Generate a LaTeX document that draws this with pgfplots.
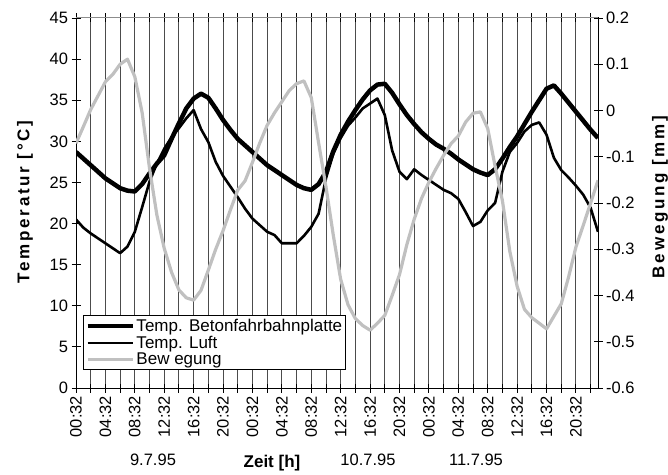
\documentclass[border=0pt]{standalone}
\usepackage{pgfplots}
\usepackage{pgfplotstable}
\pgfplotsset{compat=1.18}
\usepackage{fontspec}
\setmainfont{Liberation Sans}
\newfontfamily\axtitle[LetterSpace=16]{Liberation Sans}

% hourly readings, 00:32 on 9.7.95 = hour 0
\pgfplotstableread{
h beton luft bew
0 28.7 20.5 -0.071
1 27.9 19.5 -0.035
2 27.1 18.8 0.002
3 26.3 18.2 0.032
4 25.5 17.6 0.062
5 24.9 17.0 0.078
6 24.3 16.4 0.100
7 24.0 17.2 0.111
8 23.9 19.0 0.073
9 24.8 22.0 -0.005
10 26.1 25.1 -0.125
11 27.3 27.3 -0.226
12 28.3 29.1 -0.298
13 30.3 30.5 -0.350
14 32.2 31.6 -0.388
15 34.0 32.8 -0.405
16 35.2 33.8 -0.410
17 35.8 31.5 -0.389
18 35.3 29.9 -0.345
19 34.0 27.5 -0.300
20 32.6 25.8 -0.260
21 31.4 24.5 -0.215
22 30.3 23.2 -0.172
23 29.5 21.8 -0.152
24 28.7 20.6 -0.112
25 27.9 19.8 -0.070
26 27.1 19.0 -0.032
27 26.5 18.6 -0.005
28 25.9 17.6 0.019
29 25.3 17.6 0.043
30 24.7 17.6 0.058
31 24.3 18.5 0.064
32 24.1 19.6 0.028
33 24.8 21.2 -0.070
34 26.3 25.5 -0.165
35 28.8 28.5 -0.270
36 30.8 30.4 -0.365
37 32.4 31.9 -0.420
38 33.8 32.9 -0.450
39 35.1 34.0 -0.465
40 36.2 34.6 -0.475
41 36.9 35.2 -0.460
42 37.0 33.2 -0.443
43 35.9 28.9 -0.400
44 34.5 26.3 -0.355
45 33.2 25.4 -0.290
46 32.1 26.6 -0.235
47 31.1 25.9 -0.190
48 30.3 25.3 -0.155
49 29.6 24.7 -0.125
50 29.1 24.1 -0.097
51 28.5 23.7 -0.072
52 27.8 23.0 -0.055
53 27.2 21.4 -0.025
54 26.6 19.7 -0.006
55 26.2 20.2 -0.003
56 25.9 21.6 -0.039
57 26.6 22.5 -0.120
58 27.9 26.3 -0.195
59 29.3 28.7 -0.304
60 30.6 29.8 -0.380
61 32.1 31.2 -0.430
62 33.6 32.0 -0.448
63 35.0 32.3 -0.460
64 36.4 30.8 -0.472
65 36.8 28.0 -0.445
66 35.8 26.5 -0.418
67 34.7 25.6 -0.360
68 33.6 24.6 -0.295
69 32.5 23.5 -0.248
70 31.4 21.9 -0.200
71 30.4 19.0 -0.151
}\data

\begin{document}
\begin{tikzpicture}[font=\fontsize{16.5}{18}\selectfont]
\pgfplotsset{
  every axis/.append style={
    at={(0,0)}, anchor=south west,
    scale only axis, width=522pt, height=370pt,
    xmin=0, xmax=71,
    tick align=center, major tick length=9pt,
    tick style={black, line width=0.9pt},
    axis line style={black, line width=1pt},
    tick label style={font=\fontsize{16.5}{18}\selectfont},
    /pgf/number format/assume math mode=true,
  },
  beton/.style={black, line width=4.5pt, line join=round},
  luft/.style={black, line width=2.6pt, line join=round},
  beweg/.style={color={rgb,255:red,192;green,192;blue,192}, line width=3.2pt, line join=round},
}
\begin{axis}[
  name=main,
  ymin=0, ymax=45, ytick={0,5,...,45},
  ytick pos=left,
  xtick={0,2,...,70},
  xticklabels={00:32,,04:32,,08:32,,12:32,,16:32,,20:32,,00:32,,04:32,,08:32,,12:32,,16:32,,20:32,,00:32,,04:32,,08:32,,12:32,,16:32,,20:32,},
  xticklabel style={rotate=90, anchor=east},
  xmajorgrids, grid style={black!70, line width=0.9pt},
]
\addplot[beton] table[x=h, y=beton] {\data};
\addplot[luft] table[x=h, y=luft] {\data};
\end{axis}
\begin{axis}[
  ymin=-0.6, ymax=0.2,
  ytick={-0.6,-0.5,-0.4,-0.3,-0.2,-0.1,0,0.1,0.2},
  axis x line=none, axis y line*=right,
  legend style={at={(0.0134,0.197)}, anchor=north west, draw=black, line width=1pt,
    fill=white, font=\fontsize{17}{19}\selectfont, inner xsep=2pt, inner ysep=2pt,
    row sep=0pt, nodes={inner sep=1.5pt}},
  legend cell align=left,
  legend image code/.code={\draw[#1] (0pt,0pt) -- (45pt,0pt);},
]
\addlegendimage{beton}\addlegendentry{Temp. Betonfahrbahnplatte}
\addlegendimage{luft}\addlegendentry{Temp. Luft}
\addplot[beweg] table[x=h, y=bew] {\data};
\addlegendentry{Bew egung}
\end{axis}
\draw[black!45, line width=1pt] (main.north west) -- (main.north east);
\node[anchor=base] at (77pt,-77pt) {9.7.95};
\node[anchor=base] at (292pt,-77pt) {10.7.95};
\node[anchor=base] at (400pt,-77pt) {11.7.95};
\node[anchor=base, font=\fontsize{17}{19}\selectfont\bfseries] at (196pt,-79pt) {Zeit [h]};
\node[rotate=90, font=\fontsize{17}{19}\selectfont\axtitle\bfseries] at (-51pt,186pt) {Temperatur [°C]};
\node[rotate=90, font=\fontsize{17}{19}\selectfont\axtitle\bfseries] at (584pt,191pt) {Bewegung [mm]};
\pgfresetboundingbox
\path[use as bounding box] (-76pt,-86pt) rectangle (592pt,388pt);
\end{tikzpicture}
\end{document}
